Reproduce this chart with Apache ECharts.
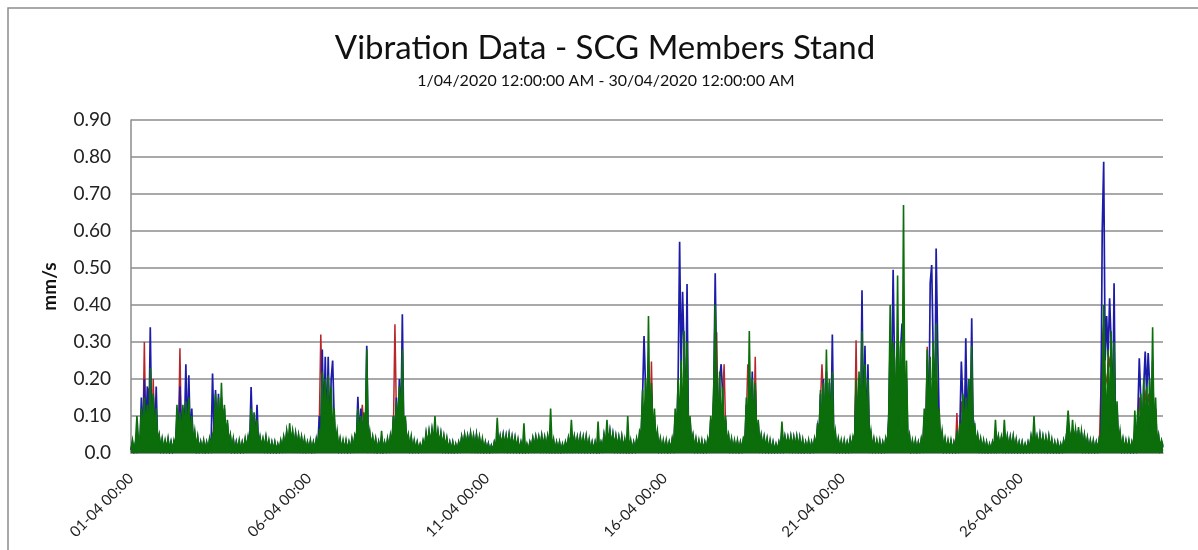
<!DOCTYPE html>
<html>
<head>
<meta charset="utf-8">
<script src="https://cdn.jsdelivr.net/npm/echarts/dist/echarts.min.js"></script>
<style>
  html, body { margin: 0; padding: 0; background: #fff; }
  #chart { width: 1198px; height: 550px; }
</style>
</head>
<body>
<div id="chart"></div>
<script>
// ---- Data (hourly readings, index 0 = 01-04 00:00, last = 30-04 00:00) ----
const chartTitle = 'Vibration Data - SCG Members Stand';
const chartSubtitle = '1/04/2020 12:00:00 AM - 30/04/2020 12:00:00 AM';
const yAxisName = 'mm/s';
const xTickLabels = ['01-04 00:00', '06-04 00:00', '11-04 00:00', '16-04 00:00', '21-04 00:00', '26-04 00:00'];
const seriesNames = ['Red', 'Blue', 'Green'];

const redValues = [
  0.003,0.012,0.002,0.01,0.003,0.012,0.006,0.1,0.03,0.30,0.04,0.12,0.175,0.1,0.03,0.2,0.03,0.08,0.01,0.02,0.004,0.012,0.003,0.01,
  0.003,0.012,0.002,0.01,0.003,0.012,0.006,0.08,0.03,0.283,0.04,0.1,0.03,0.12,0.03,0.1,0.02,0.06,0.01,0.02,0.004,0.012,0.003,0.01,
  0.003,0.012,0.002,0.01,0.003,0.012,0.005,0.03,0.03,0.14,0.04,0.12,0.04,0.13,0.03,0.1,0.02,0.05,0.01,0.02,0.004,0.012,0.003,0.01,
  0.003,0.012,0.002,0.01,0.003,0.012,0.005,0.02,0.01,0.08,0.03,0.07,0.02,0.05,0.01,0.02,0.006,0.015,0.005,0.015,0.004,0.012,0.003,0.01,
  0.003,0.012,0.002,0.01,0.003,0.012,0.005,0.018,0.006,0.02,0.008,0.02,0.008,0.022,0.006,0.02,0.006,0.018,0.005,0.016,0.004,0.014,0.003,0.012,
  0.003,0.012,0.002,0.01,0.003,0.012,0.006,0.08,0.32,0.15,0.04,0.16,0.04,0.14,0.04,0.12,0.03,0.07,0.01,0.02,0.004,0.012,0.003,0.01,
  0.003,0.012,0.002,0.01,0.003,0.012,0.005,0.03,0.02,0.09,0.03,0.08,0.13,0.06,0.02,0.1,0.01,0.03,0.006,0.018,0.004,0.012,0.003,0.01,
  0.003,0.012,0.002,0.01,0.003,0.012,0.005,0.03,0.02,0.07,0.348,0.1,0.04,0.14,0.04,0.2,0.03,0.06,0.01,0.02,0.004,0.012,0.003,0.01,
  0.003,0.012,0.002,0.01,0.003,0.012,0.005,0.018,0.006,0.02,0.008,0.02,0.008,0.022,0.006,0.02,0.006,0.018,0.005,0.016,0.004,0.014,0.003,0.012,
  0.003,0.012,0.002,0.01,0.003,0.012,0.005,0.018,0.006,0.02,0.008,0.02,0.008,0.022,0.006,0.02,0.006,0.018,0.005,0.016,0.004,0.014,0.003,0.012,
  0.003,0.012,0.002,0.01,0.003,0.012,0.005,0.018,0.006,0.02,0.008,0.02,0.008,0.022,0.006,0.02,0.006,0.018,0.005,0.016,0.004,0.014,0.003,0.012,
  0.003,0.012,0.002,0.01,0.003,0.012,0.005,0.018,0.006,0.02,0.008,0.02,0.008,0.022,0.006,0.02,0.006,0.018,0.005,0.016,0.004,0.014,0.003,0.012,
  0.003,0.012,0.002,0.01,0.003,0.012,0.005,0.018,0.006,0.02,0.008,0.02,0.008,0.022,0.006,0.02,0.006,0.018,0.005,0.016,0.004,0.014,0.003,0.012,
  0.003,0.012,0.002,0.01,0.003,0.012,0.005,0.018,0.006,0.02,0.008,0.02,0.008,0.022,0.006,0.02,0.006,0.018,0.005,0.016,0.004,0.014,0.003,0.012,
  0.003,0.012,0.002,0.01,0.003,0.012,0.006,0.04,0.03,0.12,0.04,0.14,0.04,0.15,0.04,0.247,0.03,0.08,0.01,0.02,0.004,0.012,0.003,0.01,
  0.003,0.012,0.002,0.01,0.003,0.012,0.006,0.07,0.03,0.15,0.04,0.18,0.04,0.2,0.04,0.16,0.03,0.06,0.01,0.02,0.004,0.012,0.003,0.01,
  0.003,0.012,0.002,0.01,0.003,0.012,0.006,0.07,0.03,0.14,0.04,0.326,0.04,0.17,0.04,0.14,0.24,0.07,0.01,0.02,0.004,0.012,0.003,0.01,
  0.003,0.012,0.002,0.01,0.003,0.012,0.02,0.1,0.24,0.15,0.04,0.16,0.04,0.26,0.03,0.07,0.01,0.03,0.006,0.018,0.004,0.012,0.003,0.01,
  0.003,0.012,0.002,0.01,0.003,0.012,0.005,0.018,0.006,0.02,0.008,0.02,0.008,0.022,0.006,0.02,0.006,0.018,0.005,0.016,0.004,0.014,0.003,0.012,
  0.003,0.012,0.002,0.01,0.003,0.012,0.006,0.06,0.03,0.14,0.24,0.15,0.04,0.17,0.04,0.16,0.03,0.15,0.01,0.03,0.004,0.012,0.003,0.01,
  0.003,0.012,0.002,0.01,0.003,0.012,0.006,0.03,0.02,0.305,0.04,0.18,0.04,0.2,0.04,0.2,0.03,0.16,0.01,0.03,0.004,0.012,0.003,0.01,
  0.003,0.012,0.002,0.01,0.003,0.012,0.006,0.07,0.2,0.15,0.18,0.2,0.04,0.22,0.04,0.2,0.2,0.2,0.03,0.12,0.01,0.02,0.003,0.01,
  0.003,0.012,0.002,0.01,0.003,0.012,0.006,0.08,0.03,0.287,0.04,0.2,0.2,0.2,0.04,0.22,0.15,0.07,0.01,0.02,0.004,0.012,0.003,0.01,
  0.003,0.012,0.002,0.01,0.003,0.108,0.006,0.05,0.14,0.1,0.03,0.2,0.04,0.15,0.04,0.2,0.03,0.05,0.01,0.02,0.004,0.012,0.003,0.01,
  0.003,0.012,0.002,0.01,0.003,0.012,0.005,0.018,0.006,0.02,0.008,0.02,0.008,0.022,0.006,0.02,0.006,0.018,0.005,0.016,0.004,0.014,0.003,0.012,
  0.003,0.012,0.002,0.01,0.003,0.012,0.005,0.018,0.006,0.02,0.008,0.02,0.008,0.022,0.006,0.02,0.006,0.018,0.005,0.016,0.004,0.014,0.003,0.012,
  0.003,0.012,0.002,0.01,0.003,0.012,0.005,0.018,0.006,0.02,0.008,0.02,0.008,0.022,0.006,0.02,0.006,0.018,0.005,0.016,0.004,0.014,0.003,0.012,
  0.003,0.012,0.002,0.01,0.003,0.012,0.01,0.3,0.35,0.18,0.2,0.2,0.25,0.22,0.04,0.25,0.03,0.08,0.01,0.02,0.004,0.012,0.003,0.01,
  0.003,0.012,0.002,0.01,0.003,0.03,0.006,0.06,0.15,0.1,0.04,0.14,0.16,0.12,0.16,0.12,0.04,0.16,0.02,0.08,0.01,0.02,0.004,0.012,
  0.006
];

const blueValues = [
  0.008,0.03,0.006,0.028,0.008,0.035,0.02,0.15,0.04,0.2,0.05,0.18,0.04,0.34,0.05,0.15,0.04,0.18,0.02,0.045,0.01,0.035,0.008,0.03,
  0.008,0.035,0.006,0.03,0.006,0.03,0.015,0.1,0.04,0.18,0.05,0.12,0.05,0.24,0.04,0.21,0.04,0.12,0.02,0.05,0.01,0.04,0.008,0.03,
  0.008,0.03,0.006,0.028,0.008,0.035,0.015,0.215,0.05,0.17,0.05,0.16,0.05,0.15,0.04,0.12,0.03,0.08,0.02,0.045,0.01,0.035,0.006,0.03,
  0.008,0.03,0.006,0.028,0.008,0.035,0.012,0.04,0.02,0.178,0.04,0.1,0.04,0.13,0.02,0.04,0.012,0.035,0.01,0.04,0.008,0.03,0.006,0.028,
  0.006,0.028,0.005,0.022,0.006,0.03,0.01,0.04,0.015,0.055,0.02,0.06,0.025,0.055,0.018,0.05,0.015,0.045,0.012,0.04,0.008,0.032,0.006,0.028,
  0.008,0.03,0.006,0.028,0.008,0.035,0.02,0.1,0.05,0.28,0.06,0.26,0.05,0.26,0.05,0.2,0.25,0.1,0.02,0.05,0.01,0.035,0.008,0.03,
  0.008,0.03,0.006,0.028,0.008,0.035,0.012,0.045,0.03,0.152,0.04,0.12,0.04,0.1,0.04,0.29,0.02,0.05,0.015,0.04,0.01,0.035,0.006,0.03,
  0.008,0.04,0.006,0.028,0.008,0.035,0.012,0.045,0.025,0.1,0.04,0.15,0.05,0.2,0.06,0.375,0.04,0.09,0.02,0.045,0.012,0.04,0.008,0.03,
  0.008,0.028,0.006,0.022,0.008,0.03,0.012,0.05,0.018,0.055,0.02,0.06,0.025,0.07,0.02,0.055,0.018,0.05,0.012,0.042,0.008,0.035,0.006,0.028,
  0.006,0.028,0.005,0.022,0.006,0.028,0.01,0.042,0.015,0.048,0.018,0.045,0.018,0.05,0.015,0.045,0.012,0.048,0.01,0.04,0.008,0.032,0.006,0.028,
  0.006,0.025,0.004,0.02,0.006,0.028,0.01,0.05,0.015,0.045,0.018,0.048,0.015,0.045,0.012,0.048,0.012,0.042,0.01,0.04,0.008,0.032,0.006,0.028,
  0.006,0.04,0.005,0.022,0.006,0.028,0.01,0.038,0.012,0.042,0.015,0.04,0.012,0.045,0.012,0.04,0.01,0.042,0.01,0.05,0.008,0.032,0.006,0.028,
  0.006,0.028,0.005,0.022,0.006,0.028,0.008,0.038,0.012,0.05,0.012,0.042,0.012,0.04,0.01,0.042,0.01,0.04,0.008,0.042,0.008,0.032,0.006,0.028,
  0.006,0.028,0.005,0.04,0.006,0.028,0.01,0.048,0.018,0.055,0.02,0.058,0.018,0.05,0.012,0.042,0.01,0.04,0.008,0.042,0.008,0.032,0.006,0.05,
  0.008,0.03,0.006,0.028,0.008,0.035,0.015,0.05,0.04,0.15,0.316,0.18,0.06,0.22,0.05,0.16,0.04,0.1,0.02,0.05,0.01,0.035,0.008,0.03,
  0.008,0.03,0.006,0.028,0.008,0.035,0.012,0.1,0.04,0.2,0.571,0.22,0.436,0.28,0.05,0.457,0.04,0.09,0.02,0.045,0.01,0.035,0.008,0.03,
  0.008,0.03,0.006,0.028,0.008,0.035,0.015,0.09,0.04,0.16,0.486,0.19,0.05,0.2,0.24,0.16,0.04,0.09,0.02,0.045,0.01,0.035,0.008,0.03,
  0.008,0.03,0.006,0.028,0.008,0.035,0.02,0.13,0.04,0.2,0.05,0.22,0.04,0.17,0.03,0.08,0.02,0.045,0.012,0.04,0.008,0.035,0.006,0.03,
  0.006,0.028,0.005,0.022,0.006,0.028,0.008,0.06,0.012,0.042,0.015,0.04,0.012,0.042,0.01,0.04,0.01,0.042,0.008,0.04,0.006,0.032,0.006,0.028,
  0.008,0.03,0.006,0.028,0.008,0.035,0.015,0.07,0.04,0.16,0.05,0.2,0.05,0.22,0.05,0.19,0.04,0.32,0.02,0.05,0.01,0.035,0.008,0.03,
  0.008,0.03,0.006,0.028,0.008,0.035,0.012,0.04,0.03,0.18,0.05,0.2,0.05,0.44,0.05,0.29,0.04,0.24,0.02,0.05,0.01,0.035,0.008,0.03,
  0.008,0.03,0.006,0.028,0.008,0.035,0.015,0.09,0.3,0.18,0.495,0.22,0.05,0.3,0.06,0.28,0.35,0.3,0.04,0.2,0.02,0.045,0.008,0.03,
  0.008,0.03,0.006,0.028,0.008,0.035,0.015,0.1,0.04,0.25,0.05,0.46,0.508,0.28,0.05,0.553,0.3,0.1,0.02,0.05,0.01,0.035,0.008,0.03,
  0.008,0.03,0.006,0.028,0.008,0.045,0.015,0.07,0.247,0.14,0.05,0.31,0.05,0.2,0.06,0.364,0.04,0.07,0.02,0.045,0.01,0.035,0.008,0.03,
  0.006,0.028,0.005,0.022,0.006,0.028,0.008,0.06,0.012,0.042,0.012,0.04,0.012,0.06,0.01,0.042,0.01,0.04,0.008,0.042,0.008,0.032,0.006,0.028,
  0.006,0.028,0.005,0.022,0.006,0.028,0.008,0.042,0.012,0.06,0.015,0.042,0.012,0.048,0.012,0.042,0.01,0.038,0.008,0.042,0.008,0.032,0.006,0.028,
  0.006,0.028,0.005,0.022,0.006,0.032,0.012,0.05,0.07,0.055,0.02,0.06,0.02,0.06,0.018,0.062,0.015,0.055,0.012,0.045,0.01,0.038,0.008,0.032,
  0.008,0.03,0.006,0.028,0.008,0.035,0.02,0.598,0.787,0.25,0.37,0.26,0.418,0.3,0.06,0.459,0.05,0.12,0.02,0.05,0.01,0.035,0.008,0.03,
  0.008,0.03,0.006,0.028,0.008,0.06,0.015,0.1,0.256,0.15,0.05,0.18,0.274,0.16,0.27,0.18,0.05,0.25,0.03,0.12,0.02,0.045,0.01,0.03,
  0.015
];

const greenValues = [
  0.01,0.035,0.008,0.03,0.10,0.04,0.03,0.12,0.05,0.15,0.06,0.13,0.05,0.23,0.06,0.16,0.05,0.12,0.03,0.05,0.015,0.04,0.01,0.035,
  0.012,0.04,0.01,0.03,0.008,0.035,0.02,0.13,0.04,0.11,0.05,0.13,0.06,0.14,0.05,0.15,0.04,0.1,0.03,0.06,0.015,0.045,0.01,0.03,
  0.01,0.035,0.008,0.03,0.01,0.04,0.02,0.05,0.06,0.16,0.07,0.15,0.06,0.19,0.06,0.13,0.04,0.09,0.03,0.05,0.012,0.04,0.008,0.03,
  0.01,0.035,0.008,0.03,0.01,0.04,0.015,0.045,0.02,0.12,0.05,0.11,0.04,0.09,0.02,0.045,0.018,0.04,0.016,0.045,0.012,0.035,0.008,0.03,
  0.008,0.03,0.006,0.025,0.008,0.035,0.015,0.045,0.022,0.06,0.025,0.08,0.028,0.06,0.024,0.055,0.022,0.05,0.02,0.045,0.018,0.04,0.01,0.03,
  0.01,0.035,0.008,0.03,0.01,0.04,0.02,0.06,0.05,0.22,0.07,0.2,0.06,0.21,0.05,0.18,0.05,0.12,0.03,0.06,0.015,0.04,0.01,0.035,
  0.01,0.035,0.008,0.03,0.01,0.04,0.015,0.05,0.04,0.12,0.05,0.1,0.04,0.11,0.05,0.28,0.03,0.06,0.02,0.045,0.016,0.04,0.008,0.03,
  0.01,0.06,0.008,0.03,0.01,0.04,0.015,0.05,0.03,0.1,0.05,0.14,0.06,0.18,0.07,0.28,0.05,0.1,0.03,0.05,0.015,0.045,0.01,0.035,
  0.01,0.03,0.008,0.025,0.01,0.035,0.018,0.055,0.024,0.06,0.028,0.065,0.03,0.1,0.028,0.06,0.025,0.055,0.022,0.048,0.018,0.042,0.01,0.03,
  0.008,0.03,0.006,0.025,0.008,0.03,0.016,0.045,0.022,0.05,0.024,0.048,0.024,0.055,0.022,0.048,0.02,0.05,0.02,0.045,0.016,0.04,0.008,0.03,
  0.008,0.025,0.005,0.02,0.008,0.03,0.016,0.095,0.022,0.045,0.024,0.05,0.022,0.048,0.02,0.05,0.02,0.045,0.018,0.042,0.015,0.038,0.008,0.03,
  0.008,0.08,0.006,0.025,0.008,0.03,0.016,0.042,0.02,0.045,0.022,0.045,0.02,0.048,0.02,0.044,0.018,0.046,0.018,0.12,0.015,0.038,0.008,0.03,
  0.008,0.03,0.006,0.025,0.008,0.03,0.015,0.042,0.02,0.09,0.02,0.046,0.02,0.044,0.018,0.046,0.018,0.044,0.016,0.046,0.014,0.038,0.008,0.03,
  0.008,0.03,0.006,0.085,0.008,0.03,0.016,0.05,0.024,0.09,0.028,0.06,0.024,0.052,0.02,0.048,0.018,0.044,0.016,0.046,0.014,0.038,0.008,0.1,
  0.01,0.035,0.008,0.03,0.01,0.04,0.02,0.06,0.05,0.17,0.06,0.2,0.07,0.37,0.06,0.19,0.05,0.12,0.03,0.06,0.015,0.04,0.01,0.035,
  0.01,0.035,0.008,0.03,0.01,0.04,0.015,0.12,0.05,0.2,0.06,0.25,0.05,0.33,0.06,0.3,0.05,0.1,0.03,0.05,0.015,0.04,0.01,0.035,
  0.01,0.035,0.008,0.03,0.01,0.04,0.02,0.1,0.05,0.18,0.4,0.2,0.06,0.22,0.05,0.18,0.04,0.1,0.03,0.05,0.015,0.04,0.01,0.035,
  0.01,0.035,0.008,0.03,0.01,0.04,0.03,0.15,0.05,0.33,0.06,0.2,0.05,0.19,0.04,0.09,0.025,0.05,0.02,0.045,0.016,0.04,0.008,0.035,
  0.008,0.03,0.006,0.025,0.008,0.03,0.015,0.085,0.02,0.046,0.022,0.044,0.02,0.046,0.018,0.044,0.018,0.046,0.016,0.042,0.014,0.038,0.008,0.03,
  0.01,0.035,0.008,0.03,0.01,0.04,0.02,0.08,0.05,0.17,0.06,0.19,0.05,0.28,0.06,0.2,0.05,0.22,0.03,0.06,0.015,0.04,0.01,0.035,
  0.01,0.035,0.008,0.03,0.01,0.04,0.015,0.045,0.03,0.2,0.05,0.22,0.06,0.33,0.05,0.24,0.05,0.2,0.03,0.06,0.015,0.04,0.01,0.035,
  0.01,0.035,0.008,0.03,0.01,0.04,0.02,0.1,0.4,0.2,0.3,0.25,0.06,0.48,0.07,0.3,0.06,0.67,0.05,0.25,0.03,0.05,0.01,0.035,
  0.01,0.035,0.008,0.03,0.01,0.04,0.02,0.12,0.05,0.28,0.06,0.26,0.05,0.3,0.06,0.35,0.05,0.12,0.03,0.06,0.015,0.04,0.01,0.035,
  0.01,0.035,0.008,0.03,0.01,0.06,0.02,0.08,0.05,0.16,0.06,0.15,0.05,0.2,0.06,0.29,0.04,0.08,0.025,0.05,0.018,0.04,0.01,0.035,
  0.008,0.03,0.006,0.025,0.008,0.03,0.015,0.09,0.02,0.046,0.02,0.044,0.02,0.09,0.018,0.046,0.018,0.044,0.016,0.046,0.014,0.038,0.008,0.03,
  0.008,0.03,0.006,0.025,0.008,0.03,0.015,0.046,0.02,0.1,0.022,0.046,0.02,0.05,0.02,0.046,0.018,0.044,0.016,0.046,0.014,0.038,0.008,0.03,
  0.008,0.03,0.006,0.025,0.008,0.035,0.018,0.055,0.115,0.06,0.028,0.09,0.028,0.065,0.025,0.07,0.022,0.06,0.02,0.05,0.016,0.042,0.01,0.035,
  0.01,0.035,0.008,0.03,0.01,0.04,0.03,0.15,0.4,0.2,0.07,0.28,0.06,0.33,0.07,0.3,0.05,0.14,0.03,0.06,0.015,0.04,0.01,0.035,
  0.01,0.035,0.008,0.03,0.01,0.115,0.02,0.12,0.05,0.16,0.05,0.2,0.06,0.18,0.05,0.2,0.06,0.34,0.04,0.15,0.03,0.05,0.015,0.035,
  0.02
];

// ---- Chart ----
const FONT = 'Lato, "Open Sans", sans-serif';
const HOURS_PER_TICK = 120; // 5 days
const toPoints = vals => vals.map((v, i) => [i, v]);

const chart = echarts.init(document.getElementById('chart'), null, { renderer: 'canvas' });
const lineSeries = (name, vals, color, width, filled, z) => ({
  name, type: 'line', data: toPoints(vals), showSymbol: false, symbol: 'none', z,
  lineStyle: { color, width, join: 'miter' }, itemStyle: { color },
  areaStyle: filled ? { color, opacity: 1 } : undefined,
  animation: false, silent: true
});

chart.setOption({
  animation: false,
  backgroundColor: '#ffffff',
  graphic: [{
    type: 'rect', shape: { x: 8, y: 8, width: 1300, height: 700 },
    style: { fill: 'none', stroke: '#8c8c8c', lineWidth: 1.5 }, silent: true, z: -1
  }],
  title: [
    { text: chartTitle, left: 600, top: 27, textAlign: 'center',
      textStyle: { fontFamily: FONT, fontSize: 33, fontWeight: 'normal', color: '#111' } },
    { text: chartSubtitle, left: 601, top: 68, textAlign: 'center',
      textStyle: { fontFamily: FONT, fontSize: 16, fontWeight: 'normal', color: '#111' } }
  ],
  grid: { left: 131, right: 35, top: 120, bottom: 97, containLabel: false },
  xAxis: {
    type: 'value', min: 0, max: greenValues.length - 1, interval: HOURS_PER_TICK,
    axisLine: { show: true, lineStyle: { color: '#8c8c8c', width: 1.5 } },
    axisTick: { show: false },
    splitLine: { show: false },
    axisLabel: {
      rotate: 45, margin: 23, color: '#222', fontFamily: FONT, fontSize: 15,
      showMaxLabel: false,
      formatter: v => (v % HOURS_PER_TICK === 0 ? (xTickLabels[v / HOURS_PER_TICK] || '') : '')
    }
  },
  yAxis: {
    type: 'value', min: 0, max: 0.9, interval: 0.1,
    name: yAxisName, nameLocation: 'middle', nameRotate: 90, nameGap: 72,
    nameTextStyle: { fontFamily: FONT, fontSize: 19, fontWeight: 'bold', color: '#111' },
    axisLine: { show: true, lineStyle: { color: '#8c8c8c', width: 1.5 } },
    axisTick: { show: false },
    splitLine: { show: true, lineStyle: { color: '#8c8c8c', width: 1.5 } },
    axisLabel: {
      margin: 20, color: '#222', fontFamily: FONT, fontSize: 19,
      formatter: v => (Math.abs(v) < 1e-9 ? '0.0' : v.toFixed(2))
    }
  },
  series: [
    lineSeries(seriesNames[0], redValues, '#b8262a', 1.5, false, 2),
    lineSeries(seriesNames[1], blueValues, '#1c1ca8', 1.7, false, 3),
    lineSeries(seriesNames[2], greenValues, '#0b6e0b', 1.6, true, 4)
  ]
});
</script>
</body>
</html>
